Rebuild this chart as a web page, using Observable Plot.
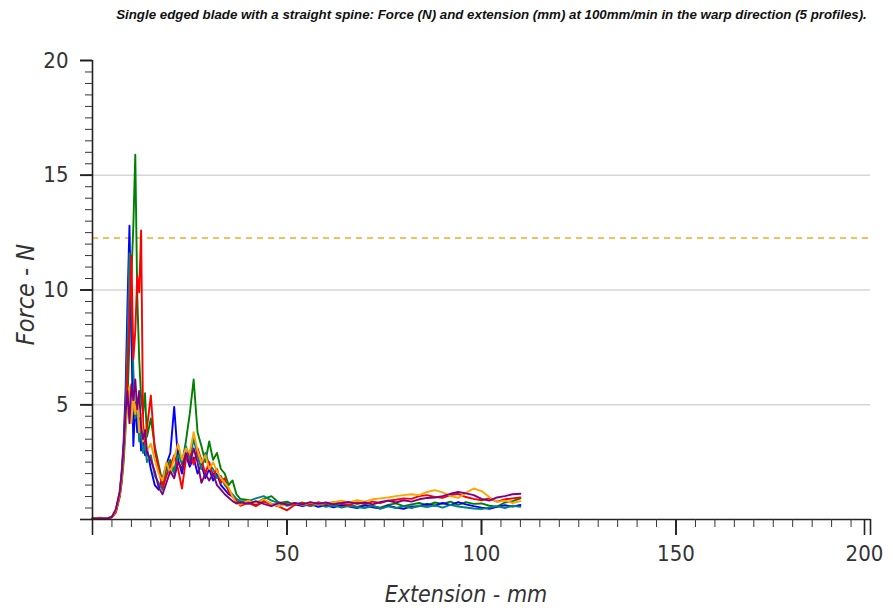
<!DOCTYPE html>
<html>
<head>
<meta charset="utf-8">
<script src="https://cdn.jsdelivr.net/npm/d3@7"></script>
<script src="https://cdn.jsdelivr.net/npm/@observablehq/plot@0.6"></script>
<style>
  body { margin: 0; background: #fff; width: 893px; height: 611px; overflow: hidden; }
  #title { height: 30px; line-height: 30px; font-family: "Liberation Sans", Arial, sans-serif; font-weight: bold; font-style: italic; font-size: 13.3px; color: #111; text-align: center; padding-left: 90px; box-sizing: border-box; width: 893px; white-space: nowrap; }
  #chart svg { display: block; }
</style>
</head>
<body>
<div id="title">Single edged blade with a straight spine: Force (N) and extension (mm) at 100mm/min in the warp direction (5 profiles).</div>
<div id="chart"></div>
<script>
// Extension (mm) sample positions shared by all profiles
const extension = [0, 2, 4, 5, 6, 7, 7.5, 8, 8.5, 9, 9.5, 10, 10.5, 11, 11.5, 12, 12.5, 13, 13.5, 14,
  15, 16, 17, 18, 19, 20, 21, 22, 23, 24, 25, 26, 27, 28, 29, 30, 31, 32, 33, 34, 35, 36, 37, 38,
  40, 42, 44, 46, 48, 50, 52, 54, 56, 58, 60, 62, 64, 66, 68, 70, 72, 74, 76, 78, 80, 82, 84, 86, 88, 90,
  92, 94, 96, 98, 100, 102, 104, 106, 108, 110];

// Force (N) per profile
const forceGreen = [0.05, 0.08, 0.04, 0.12, 0.35, 1.0, 1.6, 2.5, 3.9, 5.2, 7.8, 10.6, 12.8, 15.9, 9.8, 7.0, 5.3, 4.6, 5.5, 3.6,
  4.4, 3.2, 2.4, 1.6, 2.2, 2.6, 2.1, 3.0, 2.4, 3.4, 4.6, 6.1, 3.8, 3.2, 2.5, 3.4, 2.6, 2.9, 2.2, 2.0, 1.5, 1.7, 1.1, 0.9,
  0.85, 0.7, 0.9, 1.02, 0.72, 0.78, 0.64, 0.74, 0.6, 0.72, 0.58, 0.68, 0.57, 0.66, 0.55, 0.64, 0.58, 0.52, 0.64, 0.7, 0.58, 0.66, 0.72, 0.62, 0.74, 0.68,
  0.78, 0.64, 0.76, 0.68, 0.7, 0.6, 0.56, 0.74, 0.8, 0.92];
const forceBlue = [0.04, 0.06, 0.05, 0.1, 0.4, 1.2, 2.1, 3.4, 5.6, 9.4, 12.8, 8.2, 3.2, 5.1, 3.8, 4.4, 3.0, 3.6, 2.8, 3.1,
  2.2, 1.5, 1.3, 1.8, 2.4, 2.9, 4.9, 2.6, 2.0, 2.8, 2.3, 2.7, 2.0, 2.4, 1.8, 2.2, 1.7, 2.0, 1.5, 1.3, 1.1, 1.0, 0.8, 0.7,
  0.78, 0.62, 0.82, 0.68, 0.6, 0.7, 0.66, 0.58, 0.68, 0.55, 0.62, 0.53, 0.64, 0.56, 0.5, 0.62, 0.53, 0.48, 0.6, 0.52, 0.47, 0.57, 0.58, 0.68, 0.6, 0.72,
  0.63, 0.76, 0.66, 0.58, 0.52, 0.47, 0.55, 0.62, 0.56, 0.63];
const forceTeal = [0.05, 0.07, 0.05, 0.1, 0.35, 1.1, 1.9, 3.0, 4.9, 7.8, 11.6, 10.2, 6.5, 4.4, 5.0, 3.4, 4.0, 2.9, 3.3, 2.5,
  2.8, 1.9, 1.6, 1.3, 2.0, 2.4, 2.0, 2.8, 2.5, 3.2, 2.6, 3.5, 2.8, 2.2, 2.9, 2.4, 2.2, 1.8, 1.9, 1.5, 1.3, 1.1, 0.9, 0.8,
  0.8, 0.92, 1.02, 0.82, 0.72, 0.6, 0.68, 0.66, 0.58, 0.66, 0.55, 0.62, 0.52, 0.6, 0.54, 0.5, 0.6, 0.48, 0.57, 0.5, 0.58, 0.5, 0.6, 0.54, 0.62, 0.52,
  0.64, 0.56, 0.52, 0.48, 0.45, 0.52, 0.58, 0.5, 0.6, 0.55];
const forceRed = [0.05, 0.06, 0.05, 0.1, 0.3, 1.0, 1.7, 2.8, 4.4, 6.5, 8.8, 11.5, 7.0, 8.2, 10.6, 9.9, 12.6, 4.2, 3.3, 4.0,
  5.4, 3.0, 2.2, 1.4, 1.9, 2.3, 2.8, 2.2, 1.35, 2.6, 3.0, 2.4, 3.1, 2.6, 2.0, 2.5, 1.9, 2.2, 1.6, 1.8, 1.2, 1.0, 0.8, 0.6,
  0.72, 0.58, 0.78, 0.66, 0.56, 0.4, 0.64, 0.72, 0.64, 0.75, 0.66, 0.76, 0.68, 0.64, 0.75, 0.68, 0.78, 0.72, 0.82, 0.86, 0.92, 0.9, 1.02, 1.06, 0.98, 0.94,
  1.06, 1.12, 0.98, 0.9, 0.84, 0.92, 0.78, 0.88, 0.92, 0.96];
const forceOrange = [0.06, 0.05, 0.07, 0.12, 0.4, 1.1, 1.8, 2.9, 4.1, 5.0, 5.8, 4.2, 5.4, 4.6, 5.2, 3.8, 4.6, 3.4, 4.0, 3.0,
  3.3, 2.6, 2.0, 1.7, 2.5, 2.0, 2.7, 3.3, 2.6, 3.1, 2.9, 3.8, 3.0, 2.5, 2.8, 2.2, 2.5, 2.1, 1.8, 1.6, 1.4, 1.0, 0.7, 0.65,
  0.82, 0.7, 0.88, 0.68, 0.58, 0.66, 0.72, 0.64, 0.74, 0.66, 0.72, 0.75, 0.82, 0.74, 0.84, 0.78, 0.88, 0.92, 0.96, 1.02, 1.06, 1.1, 1.06, 1.2, 1.28, 1.18,
  1.02, 0.94, 1.16, 1.35, 1.24, 0.98, 0.76, 0.82, 0.72, 0.8];
const forcePurple = [0.05, 0.05, 0.06, 0.12, 0.45, 1.2, 2.0, 3.1, 4.6, 5.6, 4.2, 5.9, 5.2, 6.1, 4.8, 5.6, 4.0, 3.5, 3.9, 2.9,
  2.6, 2.1, 1.4, 1.1, 1.6, 2.1, 1.8, 2.5, 2.2, 2.9, 2.4, 3.1, 2.5, 1.6, 2.0, 1.7, 2.0, 1.5, 1.3, 1.1, 0.95, 0.8, 0.7, 0.75,
  0.68, 0.8, 0.68, 0.58, 0.74, 0.64, 0.72, 0.66, 0.76, 0.68, 0.74, 0.66, 0.72, 0.76, 0.68, 0.74, 0.66, 0.76, 0.82, 0.74, 0.84, 0.78, 0.88, 0.94, 0.96, 1.02,
  1.12, 1.2, 1.14, 1.06, 0.9, 0.82, 0.96, 1.02, 1.1, 1.12];

const profileNames = ["green", "blue", "teal", "red", "orange", "purple"];
const profileColors = ["#1f8a22", "#2650c4", "#1a9aa8", "#e42418", "#f2a81e", "#86178f"];
const profileForces = [forceGreen, forceBlue, forceTeal, forceRed, forceOrange, forcePurple];

// Reference level (dashed line)
const referenceForce = [12.27];

// Axis ticks
const xMajorTicks = [0, 50, 100, 150, 200];
const xLabelTicks = [50, 100, 150];
const xLastLabel = [200];
const xMinorTicks = d3.range(0, 201, 5);
const yMajorTicks = [0, 5, 10, 15, 20];
const yLabelTicks = [5, 10, 15, 20];
const yMinorTicks = d3.range(0, 20.01, 0.5);
const yGridTicks = [5, 10, 15];

const rows = [];
profileNames.forEach((name, s) => {
  extension.forEach((x, i) => rows.push({ x, y: profileForces[s][i], profile: name }));
});

const axisFont = "'DejaVu Sans Condensed', 'DejaVu Sans', sans-serif";

const plot = Plot.plot({
  width: 893,
  height: 581,
  marginTop: 30,
  marginBottom: 92,
  marginLeft: 92,
  marginRight: 23,
  style: { fontFamily: axisFont, background: "#fff", overflow: "visible" },
  x: { domain: [0, 200] },
  y: { domain: [0, 20] },
  color: { domain: profileNames, range: profileColors },
  marks: [
    Plot.ruleY(yGridTicks, { stroke: "#d6d6d6", strokeWidth: 1.3 }),
    Plot.ruleY(referenceForce, { stroke: "#f0ac2a", strokeWidth: 1.5, strokeDasharray: "6,5" }),
    Plot.line(rows, { x: "x", y: "y", z: "profile", stroke: "profile", strokeWidth: 1.9, strokeLinejoin: "round", curve: "linear" }),
    Plot.ruleY([0], { stroke: "#222", strokeWidth: 1.6 }),
    Plot.ruleX([0], { stroke: "#222", strokeWidth: 1.6 }),
    // y axis ticks
    Plot.axisY(yMinorTicks, { tickSize: 7, text: null, stroke: "#333", strokeWidth: 1, label: null }),
    Plot.axisY(yMajorTicks, { tickSize: 12, text: null, stroke: "#222", strokeWidth: 1.6, label: null }),
    Plot.axisY(yLabelTicks, { tickSize: 12, tickPadding: 12, fontSize: 22, fill: "#333", stroke: "#222", strokeWidth: 1.6, label: null }),
    // x axis ticks
    Plot.axisX(xMinorTicks, { tickSize: 8, text: null, stroke: "#333", strokeWidth: 1, label: null }),
    Plot.axisX(xMajorTicks, { tickSize: 16, text: null, stroke: "#222", strokeWidth: 1.6, label: null }),
    Plot.axisX(xLabelTicks, { tickSize: 16, tickPadding: 10, fontSize: 22, fill: "#333", stroke: "#222", strokeWidth: 1.6, label: null }),
    Plot.axisX(xLastLabel, { tickSize: 16, tickPadding: 10, fontSize: 22, fill: "#333", dx: -6, stroke: "#222", strokeWidth: 1.6, label: null }),
    // axis titles
    Plot.text(["Extension - mm"], { frameAnchor: "bottom", dy: 82, x: 96, fontSize: 23, fontStyle: "italic", fill: "#333" }),
    Plot.text(["Force - N"], { frameAnchor: "left", textAnchor: "middle", dx: -67, rotate: -90, y: 9.8, fontSize: 25, fontStyle: "italic", fill: "#333" })
  ]
});
document.getElementById("chart").appendChild(plot);
</script>
</body>
</html>
